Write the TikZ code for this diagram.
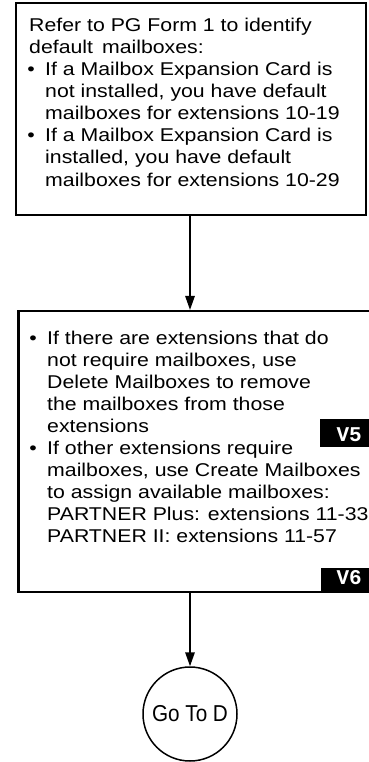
\documentclass[tikz,border=0pt]{standalone}
\usepackage{fontspec}
\setmainfont{Liberation Sans}
\newfontfamily\bodyfont[FakeStretch=1.15]{Liberation Sans}
\newfontfamily\gofont[FakeStretch=0.9]{Liberation Sans}
\newfontfamily\tagfont{Liberation Mono}
\usetikzlibrary{arrows.meta}
\begin{document}
\begin{tikzpicture}[x=1pt,y=-1pt,
  box/.style={draw, line width=2.2pt, rectangle, inner sep=0pt},
  txt/.style={anchor=base west, inner sep=0pt, font=\bodyfont\fontsize{18.5}{22}\selectfont},
  bul/.style={anchor=base, inner sep=0pt, font=\bodyfont\fontsize{18.5}{22}\selectfont},
  tagbox/.style={fill=black, inner sep=0pt},
  tagtxt/.style={anchor=base east, inner sep=0pt, text=white, font=\tagfont\bfseries\fontsize{21}{21}\selectfont},
  arr/.style={line width=1.5pt, -{Triangle[length=14pt, width=9.5pt]}},
  goto/.style={draw, circle, line width=1.5pt, minimum size=94pt, inner sep=0pt,
    font=\gofont\fontsize{23}{23}\selectfont}]
\useasboundingbox (0,0) rectangle (368,762);

% first step: default mailboxes
\node[box, minimum width=350pt, minimum height=212pt] (b1) at (191,109) {};
\node[txt] (b1t1) at (29,32)  {Refer to PG Form 1 to identify};
\node[txt] (b1t2) at (29,54)  {default\, mailboxes:};
\node[bul] (b1d1) at (31,76)  {\textbullet};
\node[txt] (b1t3) at (45,76)  {If a Mailbox Expansion Card is};
\node[txt] (b1t4) at (45,98)  {not installed, you have default};
\node[txt] (b1t5) at (45,120) {mailboxes for extensions 10-19};
\node[bul] (b1d2) at (31,142) {\textbullet};
\node[txt] (b1t6) at (45,142) {If a Mailbox Expansion Card is};
\node[txt] (b1t7) at (45,164) {installed, you have default};
\node[txt] (b1t8) at (45,186) {mailboxes for extensions 10-29};

% second step: delete / create mailboxes
\node[box, minimum width=351.5pt, minimum height=281pt] (b2) at (194.25,451.5) {};
\node[bul] (b2d1) at (33,344) {\textbullet};
\node[txt] (b2t1) at (47,344) {If there are extensions that do};
\node[txt] (b2t2) at (47,366) {not require mailboxes, use};
\node[txt] (b2t3) at (47,388) {Delete Mailboxes to remove};
\node[txt] (b2t4) at (47,410) {the mailboxes from those};
\node[txt] (b2t5) at (47,432) {extensions};
\node[bul] (b2d2) at (33,454) {\textbullet};
\node[txt] (b2t6) at (47,454) {If other extensions require};
\node[txt] (b2t7) at (47,476) {mailboxes, use Create Mailboxes};
\node[txt] (b2t8) at (47,498) {to assign available mailboxes:};
\node[txt] (b2t9) at (47,520) {PARTNER Plus: extensions 11-33};
\node[txt] (b2t10) at (47,542) {PARTNER II: extensions 11-57};

% screen tags
\node[tagbox, minimum width=50pt, minimum height=28pt] (v5box) at (345,433) {};
\node[tagtxt] (v5) at (362,441) {V5};
\node[tagbox, minimum width=50pt, minimum height=23pt] (v6box) at (346,579.5) {};
\node[tagtxt] (v6) at (362,584) {V6};

% off-page connector
\node[goto] (go) at (190,714) {Go To D};

% flow
\draw[arr] (b1.south -| go) -- (b2.north -| go);
\draw[arr] (b2.south -| go) -- (go.north);
\end{tikzpicture}
\end{document}
